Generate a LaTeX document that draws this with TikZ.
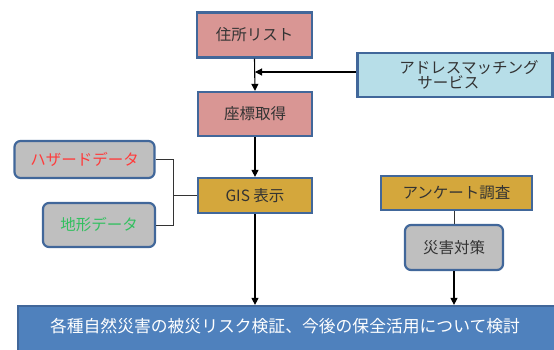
\documentclass[tikz,border=0pt]{standalone}
\usepackage{fontspec}
\newfontfamily\jp{Noto Sans CJK JP}
\usetikzlibrary{arrows.meta}
\definecolor{bordc}{HTML}{41679A}
\definecolor{pinkc}{HTML}{D99694}
\definecolor{lblue}{HTML}{B7DEE8}
\definecolor{goldc}{HTML}{D4A73C}
\definecolor{grayc}{HTML}{BFBFBF}
\definecolor{bluec}{HTML}{4F81BD}
\definecolor{redt}{HTML}{FF3B3B}
\definecolor{greent}{HTML}{33C060}
\definecolor{textc}{HTML}{333333}
\tikzset{
  box/.style={draw=bordc, line width=2.2pt, inner sep=0pt, font=\jp\fontsize{15.5}{17}\selectfont, text=textc},
  rbox/.style={box, rounded corners=6pt},
  arr/.style={-{Triangle[length=7pt,width=7pt]}, line width=1.1pt},
  con/.style={line width=0.9pt, draw=black!80},
}
\begin{document}
\begin{tikzpicture}[x=1pt,y=-1pt]
\useasboundingbox (0,0) rectangle (554,349);
\begin{scope}
\clip (0,0) rectangle (554,349);
\node[box, fill=pinkc, minimum width=115pt, minimum height=45pt] (jusho) at (254.5,35) {住所リスト};
\node[box, fill=pinkc, minimum width=114pt, minimum height=44pt] (zahyo) at (255,114) {座標取得};
\node[box, fill=lblue, minimum width=195pt, minimum height=44pt, align=left] (addr) at (455,75) {\hspace*{28pt}アドレスマッチング\\[-2pt]\hspace*{46pt}サービス};
\node[rbox, fill=grayc, minimum width=140pt, minimum height=37pt, text=redt] (haz) at (84.5,159.5) {ハザードデータ};
\node[box, fill=goldc, minimum width=114pt, minimum height=35pt] (gis) at (255,195.5) {GIS 表示};
\node[box, fill=goldc, minimum width=151pt, minimum height=34pt] (anq) at (456.5,193) {アンケート調査};
\node[rbox, fill=grayc, minimum width=112pt, minimum height=44pt, text=greent] (chik) at (99,225) {地形データ};
\node[rbox, fill=grayc, minimum width=98pt, minimum height=45pt] (sai) at (454,247.5) {災害対策};
\node[box, fill=bluec, minimum width=538pt, minimum height=48pt, text=white, text depth=0pt] (bot) at (287,330) {};
\node[font=\jp\fontsize{16.8}{18}\selectfont, text=white] (bottxt) at (285,326) {各種自然災害の被災リスク検証、今後の保全活用について検討};
\end{scope}
\coordinate (j) at (255,72);
\coordinate (bx) at (173,0);
\draw[arr] (jusho.south) -- (zahyo.north);
\draw[arr] (addr.west |- j) -- (j);
\draw[arr] (zahyo.south) -- (gis.north);
\draw[con] (haz.east) -| (bx |- chik.east) -- (chik.east);
\draw[con] (bx |- gis.west) -- (gis.west);
\draw[arr] (gis.south) -- (gis.south |- bot.north);
\draw[con] (anq.south -| sai.north) -- (sai.north);
\draw[arr] (sai.south) -- (sai.south |- bot.north);
\end{tikzpicture}
\end{document}
